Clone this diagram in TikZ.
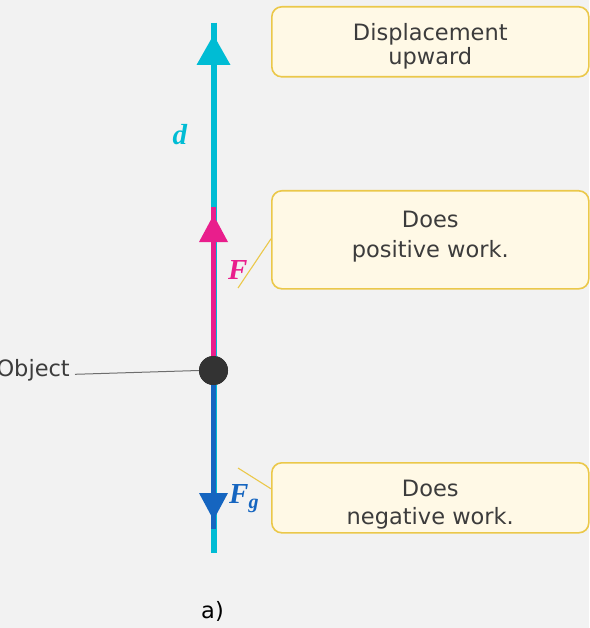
\documentclass[tikz,border=0pt]{standalone}
\usepackage{fontspec}
\setmainfont{DejaVu Sans}
\newfontfamily\vecfont{Liberation Serif}
\definecolor{bgc}{HTML}{F2F2F2}
\definecolor{cyanc}{HTML}{00BCD4}
\definecolor{magc}{HTML}{E91E8C}
\definecolor{bluec}{HTML}{1565C0}
\definecolor{dotc}{HTML}{333333}
\definecolor{boxfill}{HTML}{FFF9E6}
\definecolor{boxdraw}{HTML}{EBC84A}
\definecolor{textc}{HTML}{3C3C3C}
\definecolor{leadc}{HTML}{6E6E6E}
\begin{document}
\begin{tikzpicture}[x=1pt,y=-1pt,
  callout/.style={draw=boxdraw, fill=boxfill, line width=1.6pt, rounded corners=10pt,
    minimum width=317pt, anchor=north west, inner sep=0pt},
  boxtext/.style={align=center, text=textc, inner sep=0pt},
  vlabel/.style={font=\vecfont\bfseries\itshape\fontsize{29}{29}\selectfont, inner sep=0pt, anchor=base west},
  leader/.style={draw=boxdraw, line width=1.1pt},
  dotnode/.style={circle, fill=dotc, minimum size=29pt, inner sep=0pt}
]
\fill[bgc] (0,0) rectangle (589,628);
\useasboundingbox (0,0) rectangle (589,628);

% coordinates
\coordinate (dtop) at (213.5,22.7);
\coordinate (cbot) at (213.5,553);
\coordinate (ftop) at (213.5,207);
\coordinate (fgbot) at (213.5,529);

% object dot
\node[dotnode] (obj) at (213.5,370.5) {};

% displacement line
\draw[cyanc, line width=6pt] (dtop) -- (cbot);
\fill[cyanc] (213.5,35) -- (230.5,65) -- (196.5,65) -- cycle;

% F
\draw[magc, line width=5pt] (obj.center) -- (ftop);
\fill[magc] (213.5,215) -- (228,242) -- (199,242) -- cycle;

% Fg
\draw[bluec, line width=5pt] (obj.center) -- (fgbot);
\fill[bluec] (213.5,520) -- (228,493) -- (199,493) -- cycle;

\node[dotnode] at (obj.center) {};

% vector labels
\node[vlabel, text=cyanc] (dlab) at (172.5,145) {d};
\node[vlabel, text=magc] (flab) at (228,279) {F};
\node[vlabel, text=bluec] (fglab) at (229,503) {F\raisebox{-5pt}{\fontsize{20}{20}\selectfont g}};

% callouts
\node[callout, minimum height=70pt] (b1) at (271,6) {};
\node[boxtext, font=\fontsize{22.5}{24}\selectfont] (t1) at ([yshift=-4.5pt]b1.center) {Displacement\\upward};
\node[callout, minimum height=98pt] (b2) at (271,190) {};
\node[boxtext, font=\fontsize{22.5}{30}\selectfont] (t2) at ([yshift=3pt]b2.center) {Does\\positive work.};
\node[callout, minimum height=70pt] (b3) at (271,462) {};
\node[boxtext, font=\fontsize{22.5}{28}\selectfont] (t3) at ([yshift=-7pt]b3.center) {Does\\negative work.};

\coordinate (l2end) at (238,288);
\coordinate (l3end) at (238,468);
\draw[leader] ([yshift=1pt]b2.west) -- (l2end);
\draw[leader] ([yshift=9pt]b3.west) -- (l3end);

% object label
\node[anchor=east, text=textc, font=\fontsize{22.5}{24}\selectfont, inner sep=0pt] (objlab) at (70,370) {Object};
\draw[leadc, line width=1pt] (75,374.3) -- (obj.west);

% caption
\node[anchor=base, text=black, font=\fontsize{22.5}{24}\selectfont, inner sep=0pt] (cap) at (212.5,618) {a)};
\end{tikzpicture}
\end{document}
